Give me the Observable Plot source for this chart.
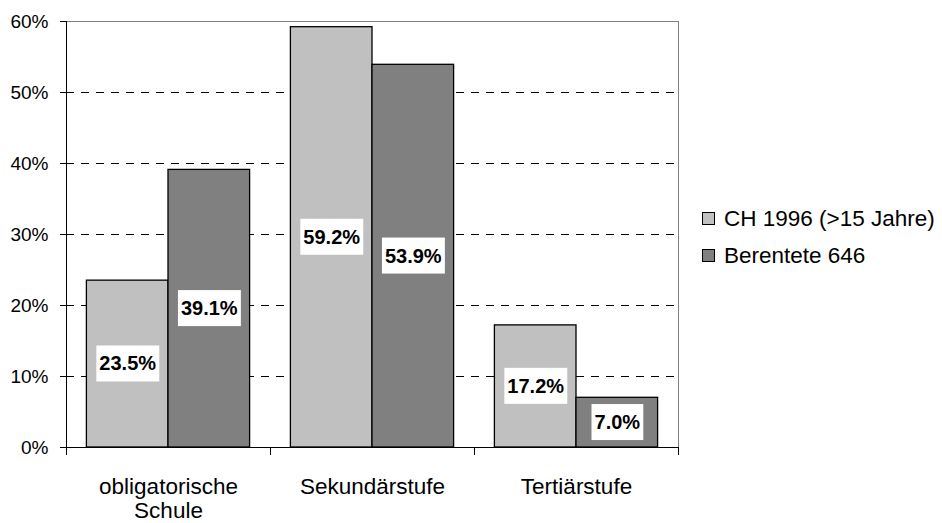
<!DOCTYPE html>
<html><head><meta charset="utf-8">
<script src="https://cdn.jsdelivr.net/npm/d3@7"></script>
<script src="https://cdn.jsdelivr.net/npm/@observablehq/plot@0.6"></script>
<style>
body{margin:0;background:#fff;font-family:"Liberation Sans",Arial,sans-serif;}
#wrap{position:relative;width:942px;height:523px;overflow:hidden;}
#legend{position:absolute;left:702px;top:200px;font-size:22.5px;color:#000;white-space:nowrap;}
.row{display:flex;align-items:center;height:37px;}
.sw{width:11px;height:11px;border:1px solid #000;margin-right:9px;flex:none;}
</style></head><body><div id="wrap"></div>
<script>
const categories = ["obligatorische\nSchule", "Sekundärstufe", "Tertiärstufe"];
const seriesNames = ["CH 1996 (>15 Jahre)", "Berentete 646"];
const chValues = [23.5, 59.2, 17.2];
const berenteteValues = [39.1, 53.9, 7.0];
const seriesColors = ["#C0C0C0", "#808080"];
const yTicks = [0, 10, 20, 30, 40, 50, 60];
const gridTicks = [10, 20, 30, 40, 50];

const seriesValues = [chValues, berenteteValues];
const rows = [];
categories.forEach((c, i) => seriesValues.forEach((vals, j) =>
  rows.push({cat: i, j, series: seriesNames[j], value: vals[i]})));
const barX1 = d => d.cat + 0.1 + 0.4 * d.j;
const barX2 = d => d.cat + 0.5 + 0.4 * d.j;
const labelText = d => d.value.toFixed(1) + "%";

const font = "'Liberation Sans', Arial, sans-serif";
const chart = Plot.plot({
  width: 942, height: 523,
  marginLeft: 66, marginRight: 264, marginTop: 21, marginBottom: 76,
  style: {fontFamily: font, fontSize: "19px", color: "#000", background: "#fff", overflow: "visible"},
  x: {type: "linear", domain: [0, 3], axis: null},
  y: {domain: [0, 60], axis: null},
  color: {domain: seriesNames, range: seriesColors},
  marks: [
    Plot.frame({stroke: "#808080"}),
    Plot.ruleY(gridTicks, {stroke: "#000", strokeDasharray: "8,7"}),
    Plot.rect(rows, {x1: barX1, x2: barX2, y1: 0, y2: "value", fill: "series", stroke: "#000", strokeWidth: 1.3}),
    Plot.ruleY([0], {stroke: "#000"}),
    Plot.ruleX([0], {stroke: "#000"}),
    Plot.axisX({ticks: [0, 1, 2, 3], tickSize: 8, tickFormat: () => "", stroke: "#000", label: null}),
    Plot.axisX({ticks: [0.5, 1.5, 2.5], tickSize: 0, tickPadding: 29, label: null,
      tickFormat: t => categories[Math.floor(t)], fontSize: 22.5, lineHeight: 1.07}),
    Plot.axisY({ticks: yTicks, tickSize: 6, tickPadding: 12, tickFormat: d => d + "%", fontSize: 19, label: null, stroke: "#000"}),
    Plot.text(rows, {x: d => (barX1(d) + barX2(d)) / 2, y: d => d.value / 2,
      text: labelText, fontWeight: "bold", fontSize: 20, fill: "#000"})
  ]
});
const wrap = document.getElementById("wrap");
wrap.append(chart);

const labelSet = new Set(rows.map(labelText));
chart.querySelectorAll("text").forEach(t => {
  const g = t.closest("g");
  if (!g || g.getAttribute("font-weight") !== "bold") return;
  if (!labelSet.has(t.textContent)) return;
  const b = t.getBBox();
  const r = document.createElementNS("http://www.w3.org/2000/svg", "rect");
  r.setAttribute("x", b.x - 3);
  r.setAttribute("y", b.y - 7);
  r.setAttribute("width", b.width + 6);
  r.setAttribute("height", b.height + 14);
  const tr = t.getAttribute("transform");
  if (tr) r.setAttribute("transform", tr);
  r.setAttribute("fill", "#fff");
  r.setAttribute("stroke", "none");
  t.parentNode.insertBefore(r, t);
});

const legend = document.createElement("div");
legend.id = "legend";
seriesNames.forEach((name, j) => {
  const row = document.createElement("div");
  row.className = "row";
  const sw = document.createElement("span");
  sw.className = "sw";
  sw.style.background = seriesColors[j];
  const lab = document.createElement("span");
  lab.textContent = name;
  row.append(sw, lab);
  legend.append(row);
});
wrap.append(legend);
</script></body></html>
